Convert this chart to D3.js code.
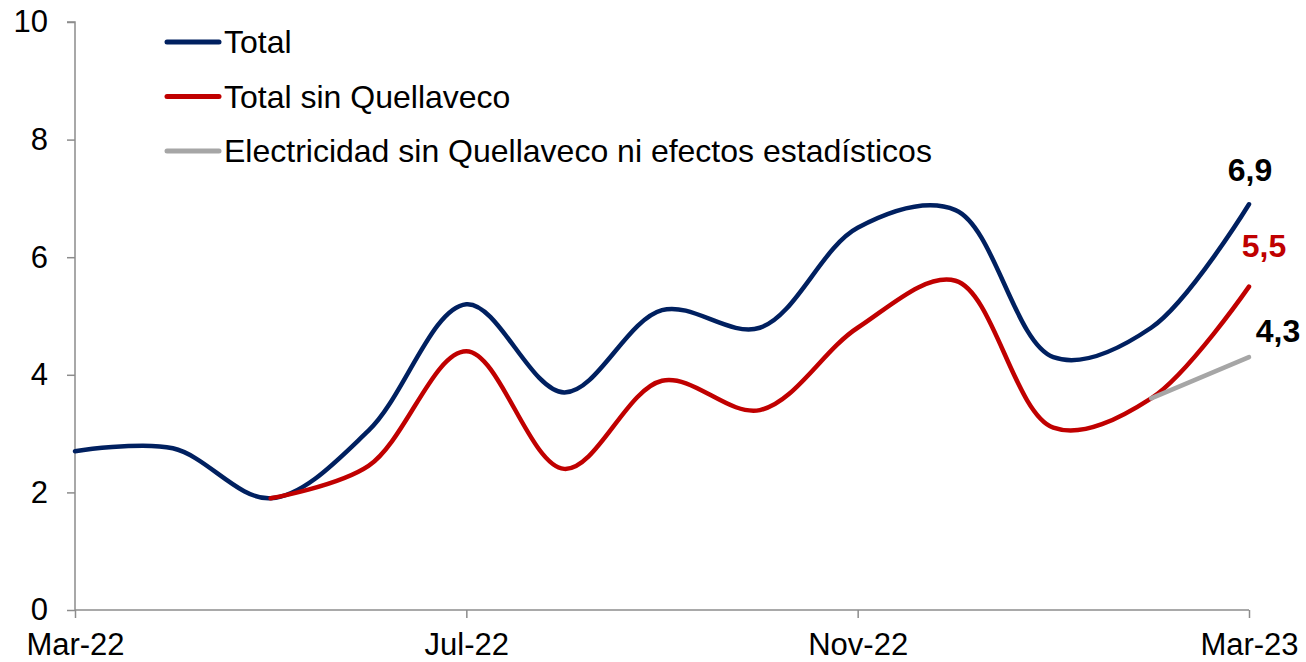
<!DOCTYPE html>
<html lang="es">
  <head>
    <meta charset="UTF-8" />
    <title>Total vs Total sin Quellaveco</title>
    <script src="https://d3js.org/d3.v7.min.js"></script>
    <style>
      body {
        margin: 0;
        background: #fff;
        font-family: "Liberation Sans", Arial, sans-serif;
      }
      .axis path,
      .axis line {
        stroke: #8c8c8c;
        stroke-width: 1.5px;
      }
      .axis text {
        font: 31px "Liberation Sans", Arial, sans-serif;
        fill: #000;
      }
      .serie {
        fill: none;
        stroke-width: 4.5px;
        stroke-linecap: round;
      }
    </style>
  </head>
  <body>
    <svg width="1306" height="662"></svg>

    <script>
      // meses (Mar-22 .. Mar-23)
      const meses = ["Mar-22", "Apr-22", "May-22", "Jun-22", "Jul-22", "Aug-22", "Sep-22",
        "Oct-22", "Nov-22", "Dec-22", "Jan-23", "Feb-23", "Mar-23"];
      const etiquetasX = ["Mar-22", "Jul-22", "Nov-22", "Mar-23"];
      const ticksY = [0, 2, 4, 6, 8, 10];

      // series (null = sin dato)
      const total = [2.7, 2.75, 1.9, 3.05, 5.2, 3.7, 5.1, 4.8, 6.5, 6.8, 4.3, 4.8, 6.9];
      const totalSinQ = [null, null, 1.9, 2.45, 4.4, 2.4, 3.9, 3.4, 4.8, 5.6, 3.1, 3.6, 5.5];
      const electricidad = [null, null, null, null, null, null, null, null, null, null, null, 3.6, 4.3];

      const series = [
        { nombre: "Total", valores: total, color: "#002060", etiqueta: "6,9", colorEtiqueta: "#000", dx: 1, dy: -23 },
        { nombre: "Total sin Quellaveco", valores: totalSinQ, color: "#C00000", etiqueta: "5,5", colorEtiqueta: "#C00000", dx: 15, dy: -30 },
        { nombre: "Electricidad sin Quellaveco ni efectos estadísticos", valores: electricidad, color: "#A6A6A6", etiqueta: "4,3", colorEtiqueta: "#000", dx: 29, dy: -15 },
      ];

      const svg = d3.select("svg");

      const x = d3.scaleLinear().domain([0, meses.length - 1]).range([75, 1249]);
      const y = d3.scaleLinear().domain([0, 10]).range([610, 22]);

      // eje Y
      svg.append("g")
        .attr("class", "axis")
        .attr("transform", "translate(75,0)")
        .call(d3.axisLeft(y).tickValues(ticksY).tickSize(8).tickPadding(19).tickFormat(d3.format("d")))
        .call((g) => g.select(".domain").attr("d", `M-8,${y(10)}H0V${y(0)}`));

      // eje X
      svg.append("g")
        .attr("class", "axis")
        .attr("transform", "translate(0,610)")
        .call(
          d3.axisBottom(x)
            .tickValues(etiquetasX.map((m) => meses.indexOf(m)))
            .tickFormat((i) => meses[i])
            .tickSize(8)
            .tickPadding(15)
        )
        .call((g) => g.select(".domain").attr("d", `M${x(0)},0H${x(12)}`))
        .call((g) => g.selectAll("text").attr("dy", "0.71em"));

      const linea = d3.line()
        .defined((d) => d != null)
        .x((d, i) => x(i))
        .y((d) => y(d))
        .curve(d3.curveCatmullRom.alpha(0.5));

      series.forEach((s) => {
        svg.append("path")
          .datum(s.valores)
          .attr("class", "serie")
          .attr("stroke", s.color)
          .attr("d", linea);

        const ult = s.valores.length - 1;
        svg.append("text")
          .attr("x", x(ult) + s.dx)
          .attr("y", y(s.valores[ult]) + s.dy)
          .attr("text-anchor", "middle")
          .attr("font-size", 32)
          .attr("font-weight", "bold")
          .attr("fill", s.colorEtiqueta)
          .text(s.etiqueta);
      });

      // leyenda
      const leyenda = svg.append("g").attr("transform", "translate(167,42)");
      series.forEach((s, i) => {
        const g = leyenda.append("g").attr("transform", `translate(0,${i * 54.5})`);
        g.append("line")
          .attr("x1", 0).attr("x2", 52)
          .attr("stroke", s.color)
          .attr("stroke-width", 5)
          .attr("stroke-linecap", "round");
        g.append("text")
          .attr("x", 57)
          .attr("dy", "0.35em")
          .attr("font-size", 32)
          .attr("fill", "#000")
          .text(s.nombre);
      });
    </script>
  </body>
</html>
